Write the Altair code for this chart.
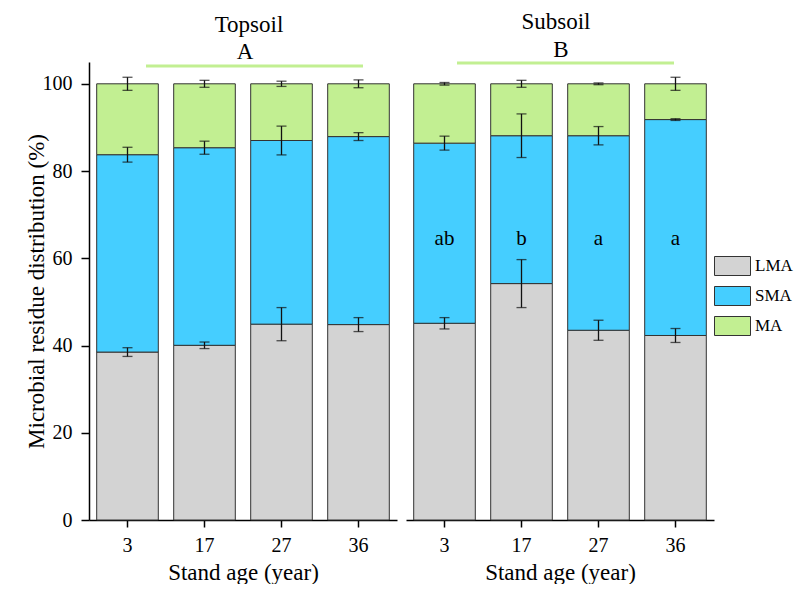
import altair as alt
import pandas as pd

FONT = "Liberation Serif, Times New Roman, serif"

ages = ["3", "17", "27", "36"]
fractions = ["LMA", "SMA", "MA"]
colors = ["#D3D3D3", "#45CEFF", "#C2EF92"]

# Topsoil segment sizes (%) and SE
top_lma = [38.5, 40.05, 44.9, 44.8]
top_sma = [45.25, 45.3, 42.1, 43.1]
top_ma = [16.25, 14.65, 13.0, 12.1]
top_lma_err = [1.0, 0.75, 3.8, 1.6]
top_sma_err = [1.7, 1.5, 3.3, 0.9]
top_ma_err = [1.5, 0.8, 0.6, 0.9]

# Subsoil segment sizes (%) and SE
sub_lma = [45.1, 54.2, 43.5, 42.3]
sub_sma = [41.3, 33.9, 44.6, 49.5]
sub_ma = [13.6, 11.9, 11.9, 8.2]
sub_lma_err = [1.3, 5.5, 2.3, 1.6]
sub_sma_err = [1.6, 5.0, 2.1, 0.2]
sub_ma_err = [0.3, 0.8, 0.2, 1.5]

sub_letters = ["ab", "b", "a", "a"]
letter_pos = [63.0, 63.0, 63.0, 63.0]

panel_titles = {"Topsoil": ["Topsoil", "A"], "Subsoil": ["Subsoil", "B"]}

rows = []
for soil, vals, errs in [
    ("Topsoil", [top_lma, top_sma, top_ma], [top_lma_err, top_sma_err, top_ma_err]),
    ("Subsoil", [sub_lma, sub_sma, sub_ma], [sub_lma_err, sub_sma_err, sub_ma_err]),
]:
    for i, age in enumerate(ages):
        cum = 0.0
        for k, frac in enumerate(fractions):
            start = cum
            end = cum + vals[k][i]
            cum = end
            rows.append(dict(soil=soil, age=age, fraction=frac, order=k,
                             start=start, end=end,
                             lo=end - errs[k][i], hi=end + errs[k][i]))
df = pd.DataFrame(rows)

letters_df = pd.DataFrame({"age": ages, "label": sub_letters, "pos": letter_pos})

yscale = alt.Scale(domain=[0, 105], nice=False, zero=True)
xscale = alt.Scale(domain=ages, paddingInner=0.2, paddingOuter=0.1)


def panel(soil, first):
    d = df[df.soil == soil]
    base = alt.Chart(d)
    xaxis = alt.Axis(title="Stand age (year)", labelAngle=0, tickSize=7,
                     labelPadding=8, titlePadding=6)
    x = alt.X("age:N", sort=ages, scale=xscale, axis=xaxis)
    if first:
        yaxis = alt.Axis(title="Microbial residue distribution (%)",
                         values=[0, 20, 40, 60, 80, 100], grid=False,
                         tickSize=8, labelPadding=9,
                         titleX=-46, titleBaseline="alphabetic")
        legend = None
    else:
        yaxis = None
        legend = alt.Legend(orient="none", legendX=316.5, legendY=194, title=None,
                            symbolType="M-1.8947,-1H1.8947V1H-1.8947Z", symbolSize=361,
                            symbolStrokeColor="#333", symbolStrokeWidth=1,
                            symbolOpacity=1, labelFontSize=17, labelOffset=12.5,
                            rowPadding=6, padding=0, labelFont=FONT, labelColor="black")
    bars = base.mark_bar(stroke="#333", strokeWidth=1, opacity=1).encode(
        x=x,
        y=alt.Y("start:Q", scale=yscale, axis=yaxis),
        y2="end:Q",
        color=alt.Color("fraction:N", scale=alt.Scale(domain=fractions, range=colors),
                        legend=legend),
        order=alt.Order("order:Q"),
    )
    rules = base.mark_rule(color="#111", strokeWidth=1.3).encode(
        x=alt.X("age:N", sort=ages), y="lo:Q", y2="hi:Q")
    cap_lo = base.mark_tick(color="#111", size=10, thickness=1.3).encode(
        x=alt.X("age:N", sort=ages), y="lo:Q")
    cap_hi = base.mark_tick(color="#111", size=10, thickness=1.3).encode(
        x=alt.X("age:N", sort=ages), y="hi:Q")

    t1, t2 = panel_titles[soil]
    if first:
        tx1, ty1, tx2, ty2, lx1, lx2, ly = 160, -30, 156, -3, 57, 274, 4
    else:
        tx1, ty1, tx2, ty2, lx1, lx2, ly = 150, -33, 155, -5, 51, 268, 1
    title1 = alt.Chart(pd.DataFrame({"t": [t1]})).mark_text(
        fontSize=23, font=FONT, color="black", baseline="alphabetic").encode(
        text="t:N", x=alt.value(tx1), y=alt.value(ty1))
    title2 = alt.Chart(pd.DataFrame({"t": [t2]})).mark_text(
        fontSize=23, font=FONT, color="black", baseline="alphabetic").encode(
        text="t:N", x=alt.value(tx2), y=alt.value(ty2))
    line = alt.Chart(pd.DataFrame({"t": [t1]})).mark_rule(
        color="#C2EF92", strokeWidth=3).encode(
        x=alt.value(lx1), x2=alt.value(lx2), y=alt.value(ly))

    layers = [bars, rules, cap_lo, cap_hi, line, title1, title2]
    if not first:
        letters = alt.Chart(letters_df).mark_text(
            fontSize=21, font=FONT, color="black", baseline="alphabetic").encode(
            x=alt.X("age:N", sort=ages), y=alt.Y("pos:Q"), text="label:N")
        layers.append(letters)
    return alt.layer(*layers).properties(width=308, height=458)


chart = alt.hconcat(panel("Topsoil", True), panel("Subsoil", False), spacing=9).resolve_scale(
    color="independent"
).resolve_legend(color="independent").properties(
    padding={"left": 17, "top": 3, "right": 0, "bottom": 0}
).configure(font=FONT).configure_view(stroke=None).configure_axis(
    labelFont=FONT, titleFont=FONT, labelFontSize=20, titleFontSize=23,
    titleFontWeight="normal", labelColor="black", titleColor="black",
    domainColor="black", tickColor="black", domainWidth=1.5, tickWidth=1.5,
)

chart.save("out.html", embed_options={"renderer": "svg", "actions": False})
